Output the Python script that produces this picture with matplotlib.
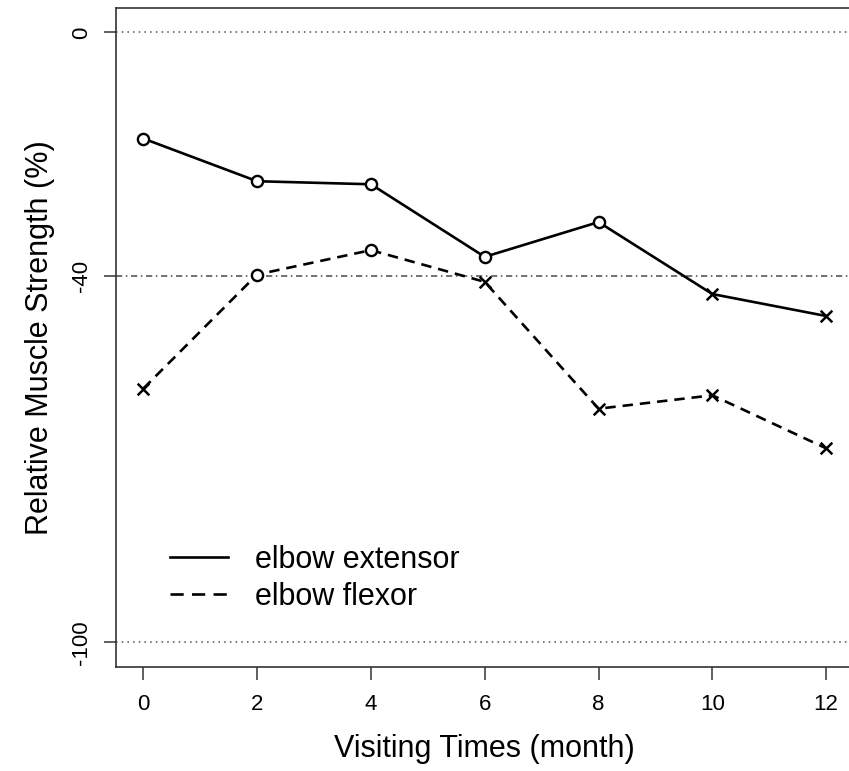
import matplotlib
matplotlib.use("Agg")
import matplotlib.pyplot as plt
from matplotlib.lines import Line2D

plt.rcParams["font.family"] = ["Liberation Sans", "DejaVu Sans"]
plt.rcParams["lines.scale_dashes"] = False

# visiting months and relative strength (%) per muscle group
months = [0, 2, 4, 6, 8, 10, 12]
extensor = [-17.4, -24.4, -24.9, -36.8, -31.1, -42.9, -46.5]
flexor = [-58.4, -39.7, -35.7, -40.9, -61.7, -59.5, -68.2]
threshold = -40
ref_levels = [0, -100]
yticks = [0, -40, -100]

fig = plt.figure(figsize=(8.49, 7.71), dpi=100)
ax = fig.add_axes([0.1366, 0.1353, 0.8687, 0.8543])

# reference lines
for lv in ref_levels:
    ax.axhline(lv, color="#6a6a6a", lw=1.3, dashes=(1.1, 3.0), zorder=1)
ax.axhline(threshold, color="#666666", lw=1.3, dashes=(4.5, 2.6, 1.1, 2.6), zorder=1)

# series lines
ax.plot(months, extensor, color="black", lw=1.9, zorder=3)
ax.plot(months, flexor, color="black", lw=1.9, dashes=(7.5, 5.0), zorder=3)

# markers: circle above the threshold, cross below it
for vals in (extensor, flexor):
    above_x = [m for m, v in zip(months, vals) if v > threshold]
    above_y = [v for v in vals if v > threshold]
    below_x = [m for m, v in zip(months, vals) if v <= threshold]
    below_y = [v for v in vals if v <= threshold]
    ax.scatter(above_x, above_y, s=65, marker="o", facecolors="white",
               edgecolors="black", linewidths=1.7, zorder=4)
    ax.scatter(below_x, below_y, s=70, marker="x", color="black",
               linewidths=1.8, zorder=4)

ax.set_xlim(-0.48, 12.48)
ax.set_ylim(-104, 4)
ax.set_xticks(months)
ax.set_yticks(yticks)
ax.set_yticklabels([str(t) for t in yticks], rotation=90, va="center")

for side in ("left", "bottom", "top"):
    ax.spines[side].set_color("#333333")
    ax.spines[side].set_linewidth(1.2)
ax.spines["right"].set_visible(False)

ax.tick_params(axis="both", length=9, width=1.1, color="#333333", labelsize=16)
ax.tick_params(axis="x", pad=11)
ax.tick_params(axis="y", pad=8)

ax.set_xlabel("Visiting Times (month)", fontsize=22, labelpad=13)
ax.set_ylabel("Relative Muscle Strength (%)", fontsize=22, labelpad=12)

handles = [
    Line2D([], [], color="black", lw=1.9),
    Line2D([], [], color="black", lw=1.9, dashes=(9.5, 6.0)),
]
ax.legend(handles, ["elbow extensor", "elbow flexor"], loc="center left",
          bbox_to_anchor=(170 / 849, 1 - 578.5 / 771),
          bbox_transform=fig.transFigure, frameon=False, fontsize=22,
          handlelength=1.9, handletextpad=0.88, labelspacing=0.22,
          borderpad=0, borderaxespad=0)

fig.savefig("out.png", dpi=100)
